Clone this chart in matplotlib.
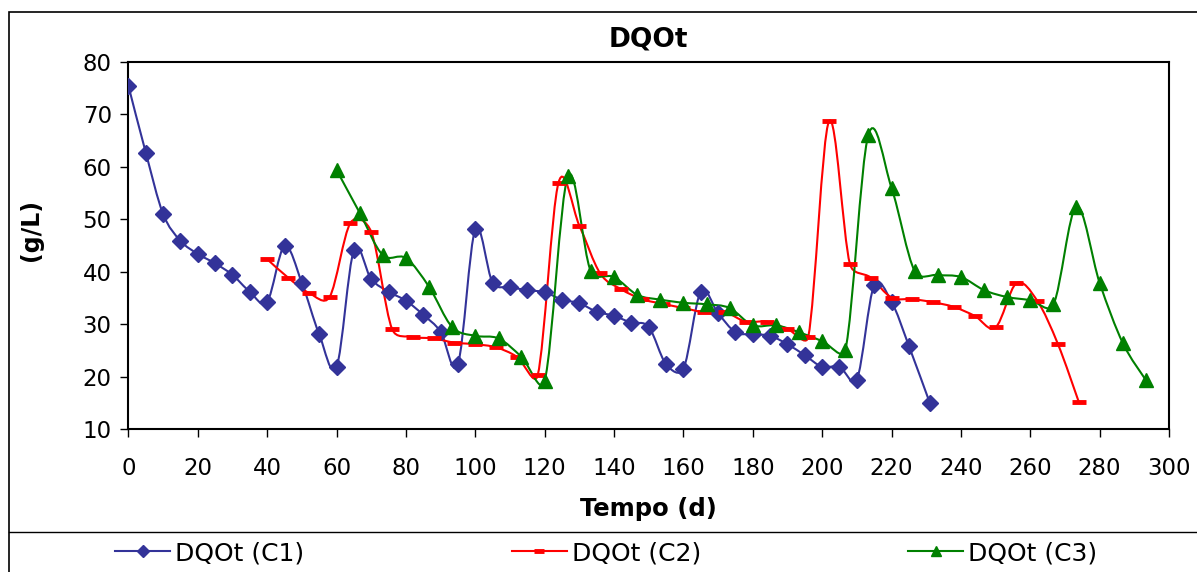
import numpy as np
import matplotlib
matplotlib.use('Agg')
from matplotlib import pyplot as plt
from matplotlib.path import Path
from matplotlib.patches import PathPatch, Rectangle
from matplotlib.lines import Line2D

# C1 - every 5 days
c1_t = [0, 5, 10, 15, 20, 25, 30, 35, 40, 45, 50, 55, 60, 65, 70, 75, 80, 85, 90, 95,
        100, 105, 110, 115, 120, 125, 130, 135, 140, 145, 150, 155, 160, 165, 170,
        175, 180, 185, 190, 195, 200, 205, 210, 215, 220, 225, 231]
c1_v = [75.4, 62.7, 51.0, 45.9, 43.4, 41.6, 39.4, 36.2, 34.3, 44.9, 37.9, 28.1, 21.9,
        44.1, 38.6, 36.2, 34.5, 31.8, 28.6, 22.4, 48.1, 37.9, 37.1, 36.5, 36.1, 34.7,
        34.0, 32.4, 31.6, 30.3, 29.5, 22.4, 21.5, 36.2, 32.1, 28.5, 28.1, 27.8, 26.2,
        24.1, 21.9, 21.9, 19.4, 37.5, 34.3, 25.9, 15.1]

# C2 - every 6 days
c2_t = [40, 46, 52, 58, 64, 70, 76, 82, 88, 94, 100, 106, 112, 118, 124, 130, 136, 142,
        148, 154, 160, 166, 172, 178, 184, 190, 196, 202, 208, 214, 220, 226, 232, 238,
        244, 250, 256, 262, 268, 274]
c2_v = [42.4, 38.9, 36.0, 35.2, 49.3, 47.6, 29.1, 27.6, 27.3, 26.5, 26.2, 25.6, 23.8,
        20.3, 57.0, 48.8, 39.7, 36.7, 34.8, 33.9, 33.1, 32.3, 32.3, 30.5, 30.5, 29.1,
        27.6, 68.7, 41.5, 38.9, 35.1, 34.8, 34.2, 33.3, 31.6, 29.4, 37.8, 34.5, 26.2, 15.2]

# C3 - every ~6.7 days
c3_t = [60, 66.7, 73.3, 80, 86.7, 93.3, 100, 106.7, 113.3, 120, 126.7, 133.3, 140,
        146.7, 153.3, 160, 166.7, 173.3, 180, 186.7, 193.3, 200, 206.7, 213.3, 220,
        226.7, 233.3, 240, 246.7, 253.3, 260, 266.7, 273.3, 280, 286.7, 293.3]
c3_v = [59.4, 51.2, 43.2, 42.6, 37.1, 29.5, 27.8, 27.3, 23.8, 19.2, 58.2, 40.1, 39.0,
        35.6, 34.7, 34.1, 33.8, 33.1, 29.8, 29.8, 28.5, 26.8, 25.1, 66.0, 56.0, 40.1,
        39.4, 39.0, 36.5, 35.2, 34.6, 33.8, 52.4, 37.9, 26.4, 19.4]

labels = ['DQOt (C1)', 'DQOt (C2)', 'DQOt (C3)']
colors = ['#333399', '#FF0000', '#008000']


def smooth_path(ax, x, y):
    # excel-like smoothed line: tension 1/6, handle capped at half the segment (screen space)
    p = np.column_stack([x, y]).astype(float)
    s = ax.transData.transform(p)
    n = len(p)
    verts = [p[0]]
    codes = [Path.MOVETO]
    for i in range(n - 1):
        i0 = max(i - 1, 0)
        i3 = min(i + 2, n - 1)
        d12 = np.hypot(*(s[i + 1] - s[i]))
        d02 = np.hypot(*(s[i + 1] - s[i0]))
        d13 = np.hypot(*(s[i3] - s[i]))
        f1 = 1 / 6 if d02 / 6 < d12 / 2 else d12 / (2 * d02)
        f2 = 1 / 6 if d13 / 6 < d12 / 2 else d12 / (2 * d13)
        c1 = p[i] + (p[i + 1] - p[i0]) * f1
        c2 = p[i + 1] - (p[i3] - p[i]) * f2
        verts += [c1, c2, p[i + 1]]
        codes += [Path.CURVE4] * 3
    return Path(verts, codes)


fig = plt.figure(figsize=(11.97, 5.72), dpi=100)
ax = fig.add_axes([0.1073, 0.2495, 0.8693, 0.6425])
ax.set_xlim(0, 300)
ax.set_ylim(10, 80)

series = [(c1_t, c1_v, 'D', dict(markersize=8)),
          (c2_t, c2_v, '_', dict(markersize=10, markeredgewidth=3.5)),
          (c3_t, c3_v, '^', dict(markersize=10))]

handles = []
for (t, v, m, mk), col, lab in zip(series, colors, labels):
    ax.add_patch(PathPatch(smooth_path(ax, t, v), fill=False, edgecolor=col, lw=1.5, zorder=2))
    ax.plot(t, v, linestyle='none', marker=m, color=col, zorder=3, **mk)
    handles.append(Line2D([], [], color=col, lw=1.5, marker=m,
                          markersize=mk['markersize'] * 0.75,
                          markeredgewidth=mk.get('markeredgewidth', 1.0)))

ax.set_xticks(np.arange(0, 301, 20))
ax.set_yticks(np.arange(10, 81, 10))
ax.tick_params(axis='x', direction='out', length=6, width=1, labelsize=16.5, pad=14)
ax.tick_params(axis='y', direction='out', length=6, width=1, labelsize=16.5, pad=6)
for s in ax.spines.values():
    s.set_linewidth(1.5)

ax.set_title('DQOt', fontsize=19, fontweight='bold', y=1.02)
ax.set_xlabel('Tempo (d)', fontsize=17.5, fontweight='bold')
ax.set_ylabel('(g/L)', fontsize=17, fontweight='bold')
ax.xaxis.set_label_coords(0.5, -0.185)
ax.yaxis.set_label_coords(-0.082, 0.542)

# outer chart border and legend separator
fig.patches.append(Rectangle((9 / 1197, -0.1), 1.2, 1.1 - 12 / 572, transform=fig.transFigure,
                             fill=False, edgecolor='black', lw=1.2))
fig.add_artist(Line2D([9 / 1197, 1.0], [1 - 532 / 572] * 2, transform=fig.transFigure,
                      color='black', lw=1.0))

fig.legend(handles, labels, loc='center left', bbox_to_anchor=(115 / 1197, 1 - 553 / 572),
           ncol=3, frameon=False, fontsize=18, handlelength=2.2, handletextpad=0.2,
           columnspacing=8.3, borderaxespad=0, borderpad=0)

fig.savefig('out.png', dpi=100)
